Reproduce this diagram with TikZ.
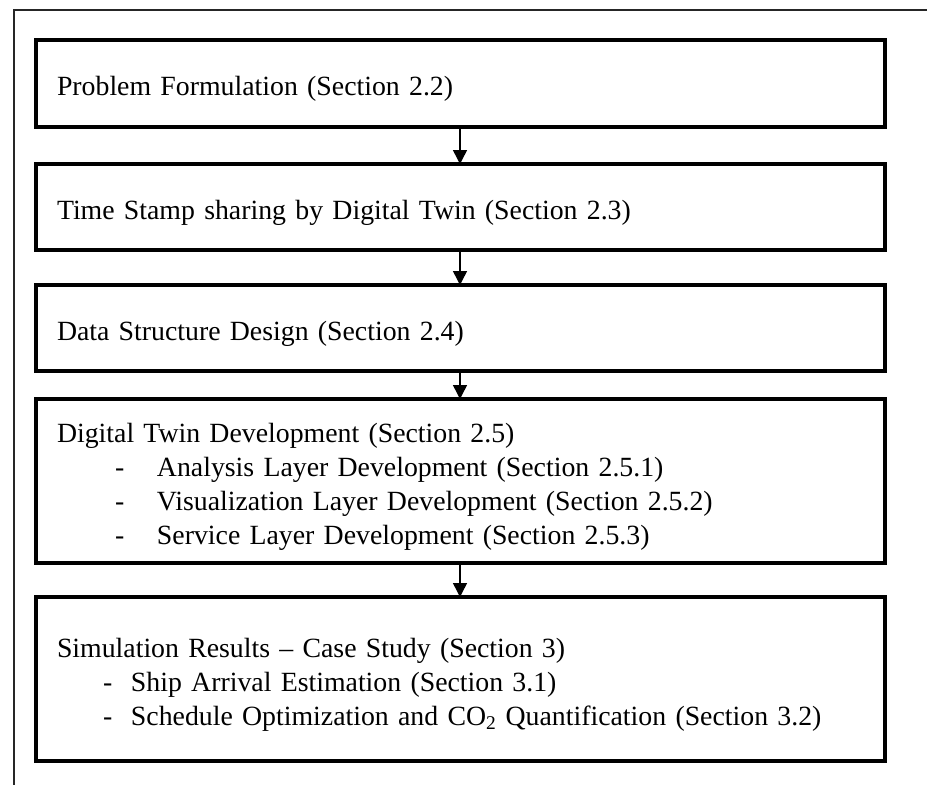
\documentclass[tikz,border=0pt]{standalone}
\usepackage{fontspec}
\setmainfont{Liberation Serif}
\usetikzlibrary{arrows.meta}
\newcommand{\subitemA}[1]{\hspace*{58pt}\makebox[42pt][l]{-}#1}
\newcommand{\subitemB}[1]{\hspace*{46pt}\makebox[28pt][l]{-}#1}
\begin{document}
\begin{tikzpicture}[x=1pt,y=-1pt,
  stage/.style={draw=black,line width=3.5pt,rectangle,outer sep=0pt,
    minimum width=849pt,inner xsep=21pt,inner ysep=0pt,text width=807pt,
    align=left,anchor=north west,font=\fontsize{27.8}{34}\selectfont,
    execute at begin node=\rule{0pt}{30pt}},
  flow/.style={line width=1.5pt,-{Triangle[length=14pt,width=14pt]}},
  frame/.style={line width=1.5pt,draw=black!85}]
\useasboundingbox (0,0) rectangle (927,785);
% open outer frame (left and top edges only)
\draw[frame] (14,785) -- (14,10) -- (927,10);

\node[stage,minimum height=87pt] (s1) at (36,40)
  {Problem Formulation (Section 2.2)};
\node[stage,minimum height=86pt] (s2) at (36,164)
  {Time Stamp sharing by Digital Twin (Section 2.3)};
\node[stage,minimum height=86pt] (s3) at (36,285)
  {Data Structure Design (Section 2.4)};
\node[stage,minimum height=164pt] (s4) at (36,399)
  {Digital Twin Development (Section 2.5)\\
   \subitemA{Analysis Layer Development (Section 2.5.1)}\\
   \subitemA{Visualization Layer Development (Section 2.5.2)}\\
   \subitemA{Service Layer Development (Section 2.5.3)}};
\node[stage,minimum height=164pt] (s5) at (36,597)
  {Simulation Results -- Case Study (Section 3)\\
   \subitemB{Ship Arrival Estimation (Section 3.1)}\\
   \subitemB{Schedule Optimization and CO\textsubscript{2} Quantification (Section 3.2)}};

\foreach \a/\b in {s1/s2,s2/s3,s3/s4,s4/s5}
  \draw[flow] ([xshift=424pt]\a.south west) -- ([xshift=424pt]\b.north west);
\end{tikzpicture}
\end{document}
